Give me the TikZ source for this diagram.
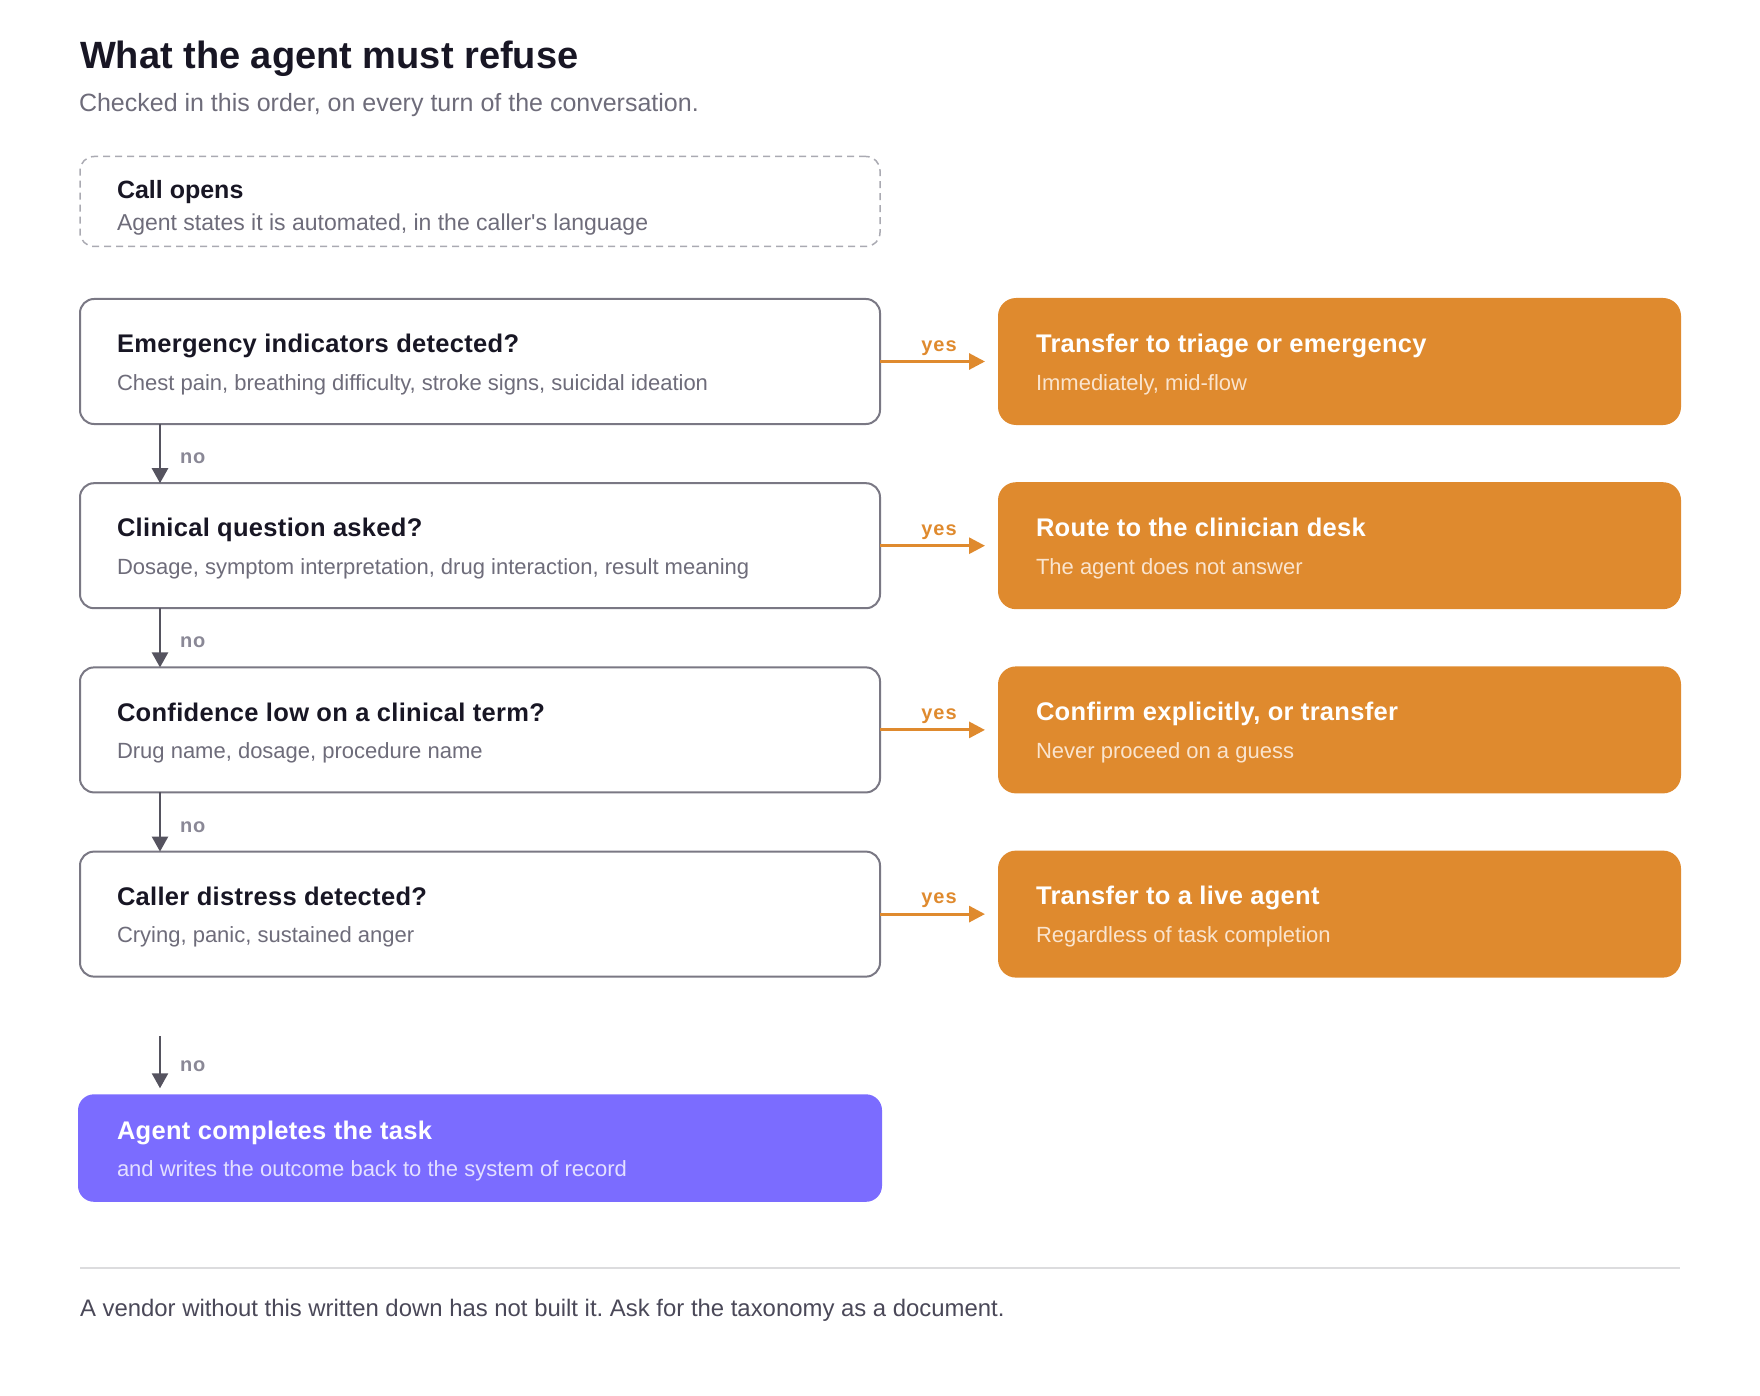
\documentclass[tikz,border=0pt]{standalone}
\usepackage{fontspec}
\setmainfont{Liberation Sans}
\usetikzlibrary{arrows.meta,calc}
\definecolor{ink}{RGB}{24,22,36}
\definecolor{muted}{RGB}{110,108,122}
\definecolor{edge}{RGB}{122,120,132}
\definecolor{dashc}{RGB}{170,170,178}
\definecolor{orng}{RGB}{223,138,46}
\definecolor{peach}{RGB}{250,228,206}
\definecolor{purp}{RGB}{123,108,255}
\definecolor{lav}{RGB}{228,224,255}
\definecolor{arrowc}{RGB}{85,83,95}
\definecolor{nolab}{RGB}{138,136,150}
\definecolor{rulec}{RGB}{220,220,222}
\definecolor{foot}{RGB}{74,72,88}
\frenchspacing
\begin{document}
\begin{tikzpicture}[x=1pt,y=-1pt,
  txt/.style={inner sep=0pt, outer sep=0pt, anchor=base west},
  hd/.style={txt, font=\fontsize{25.5}{30}\selectfont\bfseries\addfontfeature{LetterSpace=1.2}, text=ink},
  ds/.style={txt, font=\fontsize{22}{27}\selectfont, text=muted},
  ohd/.style={hd, text=white},
  ods/.style={ds, text=peach},
  phd/.style={hd, text=white},
  pds/.style={ds, text=lav},
  qbox/.style={draw=edge, line width=2pt, rounded corners=14pt, fill=white,
    minimum width=800pt, minimum height=125pt, anchor=north west,
    inner sep=0pt, outer sep=0pt},
  obox/.style={fill=orng, rounded corners=18pt, minimum width=683pt,
    minimum height=127pt, anchor=north west, inner sep=0pt, outer sep=0pt},
  pbox/.style={fill=purp, rounded corners=16pt, minimum width=804pt,
    minimum height=107.5pt, anchor=north west, inner sep=0pt, outer sep=0pt},
  startbox/.style={draw=dashc, line width=1.5pt, dash pattern=on 7pt off 5pt,
    rounded corners=14pt, minimum width=800pt, minimum height=90pt,
    anchor=north west, inner sep=0pt, outer sep=0pt},
  yesarr/.style={draw=orng, line width=3pt, -{Triangle[length=16pt,width=16pt]}},
  noarr/.style={draw=arrowc, line width=2.5pt, -{Triangle[length=15pt,width=16pt]}},
  yeslab/.style={inner sep=0pt, anchor=base, text=orng,
    font=\fontsize{20}{24}\selectfont\bfseries\addfontfeature{LetterSpace=5}},
  nolabel/.style={txt, text=nolab,
    font=\fontsize{20}{24}\selectfont\bfseries\addfontfeature{LetterSpace=5}},
]
\useasboundingbox (0,0) rectangle (1760,1396);

% heading
\node[txt, font=\fontsize{38}{45}\selectfont\bfseries, text=ink] (title) at (80,68.5) {What the agent must refuse};
\node[txt, font=\fontsize{25}{30}\selectfont, text=muted] (subtitle) at (79,112) {Checked in this order, on every turn of the conversation.};

% call opens
\node[startbox] (start) at (80,156.5) {};
\node[txt, font=\fontsize{25}{30}\selectfont\bfseries, text=ink] (startt) at (117,198.3) {Call opens};
\node[ds, font=\fontsize{23}{27}\selectfont] (startd) at (117,230.7) {Agent states it is automated, in the caller\textquotesingle s language};

% rows
\node[qbox] (q1) at (80,299) {};
\node[qbox] (q2) at (80,483.2) {};
\node[qbox] (q3) at (80,667.4) {};
\node[qbox] (q4) at (80,851.6) {};

\node[obox] (o1) at (998,298) {};
\node[obox] (o2) at (998,482.2) {};
\node[obox] (o3) at (998,666.4) {};
\node[obox] (o4) at (998,850.6) {};

\node[hd] (q1t) at (117,352.7) {Emergency indicators detected?};
\node[ds] (q1d) at (117,390) {Chest pain, breathing difficulty, stroke signs, suicidal ideation};
\node[hd] (q2t) at (117,536.9) {Clinical question asked?};
\node[ds] (q2d) at (117,574.2) {Dosage, symptom interpretation, drug interaction, result meaning};
\node[hd] (q3t) at (117,721.1) {Confidence low on a clinical term?};
\node[ds] (q3d) at (117,758.4) {Drug name, dosage, procedure name};
\node[hd] (q4t) at (117,905.3) {Caller distress detected?};
\node[ds] (q4d) at (117,942.6) {Crying, panic, sustained anger};

\node[ohd] (o1t) at (1036,352.2) {Transfer to triage or emergency};
\node[ods] (o1d) at (1036,390) {Immediately, mid-flow};
\node[ohd] (o2t) at (1036,536.4) {Route to the clinician desk};
\node[ods] (o2d) at (1036,574.2) {The agent does not answer};
\node[ohd] (o3t) at (1036,720.6) {Confirm explicitly, or transfer};
\node[ods] (o3d) at (1036,758.4) {Never proceed on a guess};
\node[ohd] (o4t) at (1036,904.8) {Transfer to a live agent};
\node[ods] (o4d) at (1036,942.6) {Regardless of task completion};

% yes connectors
\foreach \i in {1,2,3,4}{
  \draw[yesarr] (q\i.east) -- ($(o\i.west)+(-13,0)$);
  \node[yeslab] (yes\i) at ($(q\i.east)+(59,-10.5)$) {yes};
}

% no connectors
\foreach \a/\b in {1/2,2/3,3/4}{
  \draw[noarr] ($(q\a.south west)+(80,0)$) -- ($(q\b.north west)+(80,0)$);
  \node[nolabel] (no\a) at ($(q\b.north west)+(100,-19.5)$) {no};
}

% final outcome
\node[pbox] (done) at (78,1094.3) {};
\node[phd] (donet) at (117,1139.3) {Agent completes the task};
\node[pds] (doned) at (117,1176) {and writes the outcome back to the system of record};
\coordinate (n4) at (160,1036);
\draw[noarr] (n4) -- ($(done.north west)+(82,-6)$);
\node[nolabel] (no4) at (180,1071.7) {no};

% footer
\coordinate (r1) at (80,1268);
\coordinate (r2) at (1680,1268);
\draw[draw=rulec, line width=2pt] (r1) -- (r2);
\node[txt, font=\fontsize{23.9}{29}\selectfont, text=foot] (footer) at (80,1316) {A vendor without this written down has not built it. Ask for the taxonomy as a document.};
\end{tikzpicture}
\end{document}
